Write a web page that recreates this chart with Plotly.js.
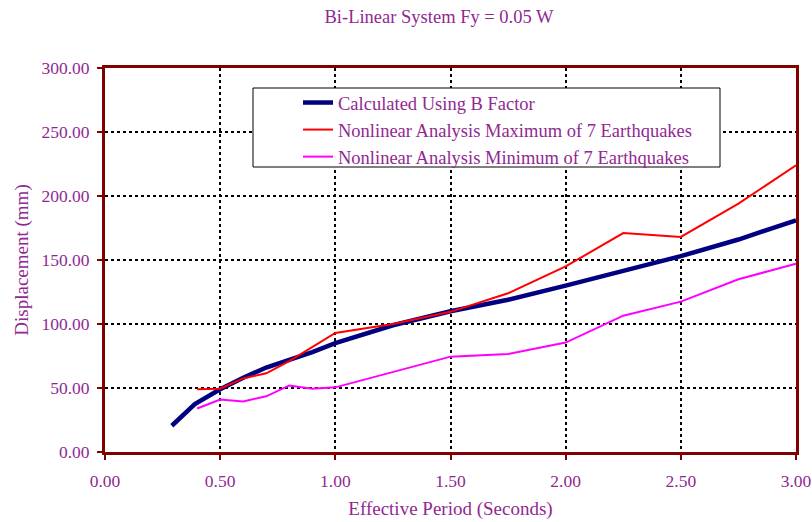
<!DOCTYPE html>
<html>
<head>
<meta charset="utf-8">
<script src="https://cdn.plot.ly/plotly-3.0.1.min.js"></script>
<style>
  html, body { margin: 0; padding: 0; background: #ffffff; }
  #chart { width: 812px; height: 522px; }
</style>
</head>
<body>
<div id="chart"></div>
<script>
// Effective period (s) and displacement (mm) for each series
const bFactorPeriod = [0.29, 0.39, 0.5, 0.6, 0.7, 0.8, 0.9, 1.0, 1.1, 1.25, 1.5, 1.75, 2.0, 2.25, 2.5, 2.75, 3.0];
const bFactorDisp   = [20.5, 37.5, 49, 58, 66, 72, 78, 85, 90.5, 99, 110, 119, 130, 141.5, 153, 166, 181];

const maxPeriod = [0.4, 0.5, 0.6, 0.7, 0.8, 0.9, 1.0, 1.25, 1.5, 1.75, 2.0, 2.25, 2.5, 2.75, 3.0];
const maxDisp   = [49, 49.5, 57.5, 61.5, 71, 82, 93, 100, 109.5, 124, 145, 171, 168, 194, 224];

const minPeriod = [0.4, 0.5, 0.6, 0.7, 0.8, 0.9, 1.0, 1.5, 1.75, 2.0, 2.25, 2.5, 2.75, 3.0];
const minDisp   = [34, 41, 39.5, 43.5, 52, 49.5, 50.5, 74.5, 76.5, 85.5, 106.5, 117.5, 135, 147];

const seriesNames = [
  'Calculated Using B Factor',
  'Nonlinear Analysis Maximum of 7 Earthquakes',
  'Nonlinear Analysis Minimum of 7 Earthquakes'
];

const xTicks = [0, 0.5, 1.0, 1.5, 2.0, 2.5, 3.0];
const yTicks = [0, 50, 100, 150, 200, 250, 300];

const serif = 'Garamond, "Liberation Serif", "DejaVu Serif", serif';
const purple = '#912891';
const maroon = '#800000';

const traces = [
  { x: bFactorPeriod, y: bFactorDisp, name: seriesNames[0], mode: 'lines',
    line: { color: '#000080', width: 4.5 } },
  { x: maxPeriod, y: maxDisp, name: seriesNames[1], mode: 'lines',
    line: { color: '#ff0000', width: 2 } },
  { x: minPeriod, y: minDisp, name: seriesNames[2], mode: 'lines',
    line: { color: '#ff00ff', width: 2 } }
];

const axisCommon = {
  showline: true, linecolor: maroon, linewidth: 3, mirror: true,
  showgrid: true, gridcolor: '#000000', gridwidth: 2, griddash: 'dot',
  zeroline: false, ticks: 'outside', ticklen: 5, tickcolor: maroon, tickwidth: 2,
  tickfont: { family: serif, size: 17.5, color: purple }
};

const layout = {
  width: 812, height: 522,
  margin: { l: 105, r: 16, t: 68, b: 70 },
  paper_bgcolor: '#ffffff', plot_bgcolor: '#ffffff',
  title: { text: 'Bi-Linear System Fy = 0.05 W', x: 439 / 812, xanchor: 'center', y: 1 - 17 / 522, yanchor: 'middle',
           font: { family: serif, size: 18.5, color: purple } },
  xaxis: Object.assign({}, axisCommon, {
    range: [0, 3.0], tickvals: xTicks, ticktext: xTicks.map(v => v.toFixed(2)),
    ticklabelstandoff: 6,
    title: { text: 'Effective Period (Seconds)', standoff: 12, font: { family: serif, size: 19, color: purple } }
  }),
  yaxis: Object.assign({}, axisCommon, {
    range: [0, 300], tickvals: yTicks, ticktext: yTicks.map(v => v.toFixed(2)),
    ticklabelstandoff: 4,
    title: { text: 'Displacement (mm)', standoff: 8, font: { family: serif, size: 19, color: purple } }
  }),
  legend: {
    x: (298 - 105) / 691, y: (452 - 84) / 384, xanchor: 'left', yanchor: 'top',
    bgcolor: 'rgba(0,0,0,0)', borderwidth: 0,
    font: { family: serif, size: 18.5, color: purple }
  },
  shapes: [{
    type: 'rect', xref: 'paper', yref: 'paper', layer: 'above',
    x0: (253 - 105) / 691, x1: (720 - 105) / 691,
    y0: (452 - 167) / 384, y1: (452 - 88) / 384,
    fillcolor: '#ffffff', line: { color: '#000000', width: 1 }
  }],
  showlegend: true
};

Plotly.newPlot('chart', traces, layout, { displayModeBar: false, staticPlot: true });
</script>
</body>
</html>
